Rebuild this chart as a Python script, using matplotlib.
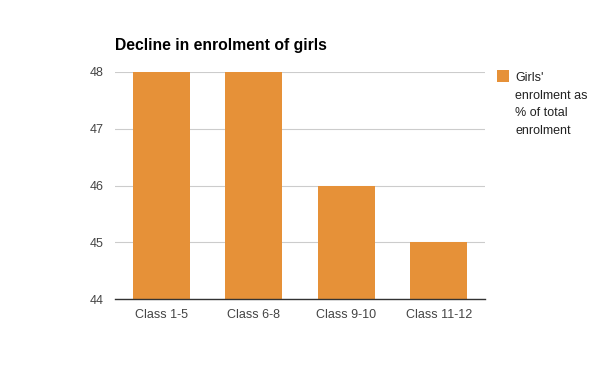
import matplotlib
matplotlib.use("Agg")
import matplotlib.pyplot as plt
from matplotlib.patches import Rectangle

categories = ["Class 1-5", "Class 6-8", "Class 9-10", "Class 11-12"]
values = [48, 48, 46, 45]
yticks = [44, 45, 46, 47, 48]
title = "Decline in enrolment of girls"
legend_label = "Girls'\nenrolment as\n% of total\nenrolment"
color = "#E69138"

plt.rcParams['font.family'] = ['Liberation Sans', 'DejaVu Sans']

fig = plt.figure(figsize=(6, 3.71), dpi=100)
ax = fig.add_axes([115/600, 1-299/371, 370/600, 227/371])
x = range(len(categories))
ax.bar(x, values, width=0.62, color=color, zorder=2)
ax.set_xlim(-0.5, len(categories)-0.5)
ax.set_ylim(44, 48)
ax.set_yticks(yticks)
ax.set_yticklabels([str(t) for t in yticks])
ax.set_xticks(list(x))
ax.set_xticklabels(categories)
ax.tick_params(axis='both', length=0, labelsize=9, colors='#444444')
ax.tick_params(axis='y', pad=8.5)
ax.tick_params(axis='x', pad=7)
ax.grid(axis='y', color='#cccccc', linewidth=0.8, zorder=0)
for s in ['top', 'right', 'left']:
    ax.spines[s].set_visible(False)
ax.spines['bottom'].set_color('#333333')
ax.spines['bottom'].set_linewidth(1.0)
ax.spines['bottom'].set_zorder(3)

fig.text(115/600, 1-50/371, title, fontsize=11.3, fontweight='bold', color='#000000', ha='left', va='baseline')

fig.patches.append(Rectangle((497/600, 1-82/371), 12/600, 12/371, transform=fig.transFigure, facecolor=color, edgecolor='none'))
fig.text(515/600, 1-72/371, legend_label, fontsize=9, color='#222222', ha='left', va='top', linespacing=1.62)

fig.savefig("out.png", dpi=100)
